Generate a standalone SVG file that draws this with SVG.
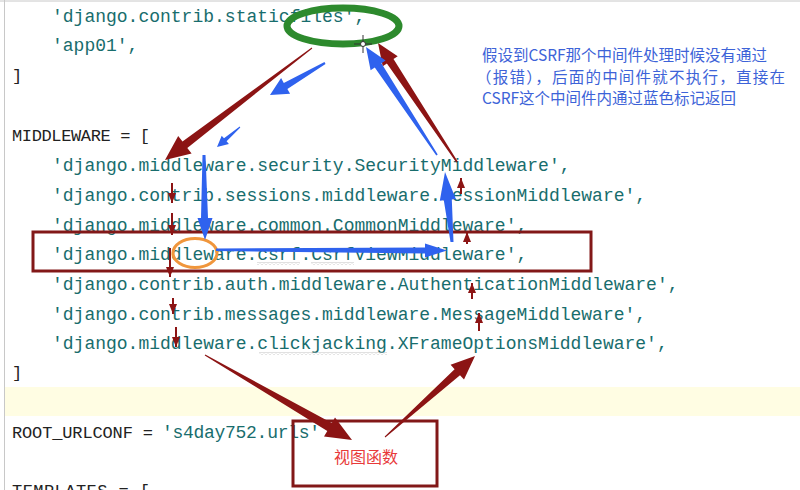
<svg xmlns="http://www.w3.org/2000/svg" width="800" height="490" viewBox="0 0 800 490">
  <defs>
    <style>
      .code { font-family: "Liberation Mono", "DejaVu Sans Mono", monospace; font-size: 18px; fill: #186d6d; }
      .kw { font-family: "Liberation Mono", "DejaVu Sans Mono", monospace; font-size: 17px; fill: #222222; }
      .note { font-family: "Noto Sans CJK SC", "Noto Sans", sans-serif; font-size: 15.5px; fill: #3d63d8; }
      .label { font-family: "Noto Sans CJK SC", sans-serif; font-size: 16px; fill: #e83a3a; }
      .box { fill: none; stroke: #821818; stroke-width: 3; }
      .red { fill: #8c1414; }
      .blue { fill: #2f62ee; }
      .small { stroke: #8c1414; stroke-width: 2; fill: none; marker-end: url(#rh); }
    </style>
    <marker id="rh" viewBox="0 0 10 8" refX="10" refY="4" markerWidth="10" markerHeight="8" markerUnits="userSpaceOnUse" orient="auto">
      <path d="M0,0 L10,4 L0,8 z" fill="#8c1414"/>
    </marker>
    <pattern id="squig" width="4" height="3" patternUnits="userSpaceOnUse">
      <path d="M0,2.5 L2,0.5 L4,2.5" fill="none" stroke="#b4b4b4" stroke-width="0.8"/>
    </pattern>
  </defs>

  <rect x="0" y="0" width="800" height="490" fill="#ffffff"/>
  <rect x="5" y="387" width="795" height="29" fill="#fffde3"/>
  <line x1="0" y1="1" x2="800" y2="1" stroke="#c8c8c8" stroke-width="1"/>
  <line x1="4.5" y1="0" x2="4.5" y2="490" stroke="#c8c8c8" stroke-width="1"/>

  <g id="code">
    <text class="code" x="52" y="22">'django.contrib.staticfiles',</text>
    <text class="code" x="52" y="51">'app01',</text>
    <text class="kw" x="12" y="81">]</text>
    <text class="kw" x="12" y="141" textLength="138" lengthAdjust="spacing">MIDDLEWARE = [</text>
    <text class="code" x="52" y="171">'django.middleware.security.SecurityMiddleware',</text>
    <text class="code" x="52" y="201">'django.contrib.sessions.middleware.SessionMiddleware',</text>
    <text class="code" x="52" y="231">'django.middleware.common.CommonMiddleware',</text>
    <text class="code" x="52" y="260">'django.middleware.csrf.CsrfViewMiddleware',</text>
    <text class="code" x="52" y="290">'django.contrib.auth.middleware.AuthenticationMiddleware',</text>
    <text class="code" x="52" y="320">'django.contrib.messages.middleware.MessageMiddleware',</text>
    <text class="code" x="52" y="349">'django.middleware.clickjacking.XFrameOptionsMiddleware',</text>
    <text class="kw" x="12" y="378">]</text>
    <text class="kw" x="12" y="438" textLength="141" lengthAdjust="spacing">ROOT_URLCONF =</text>
    <text class="code" x="162" y="438" textLength="158" lengthAdjust="spacing">'s4day752.urls'</text>
    <text class="kw" x="12" y="496" textLength="138" lengthAdjust="spacing">TEMPLATES = [</text>
    <rect x="257" y="262" width="43" height="3" fill="url(#squig)"/>
    <rect x="311" y="262" width="43" height="3" fill="url(#squig)"/>
    <rect x="259" y="352" width="128" height="3" fill="url(#squig)"/>
  </g>

  <g id="csrf-box">
    <rect class="box" x="33" y="232" width="558" height="39"/>
  </g>

  <g id="view-function">
    <rect class="box" x="293" y="421" width="144" height="65"/>
    <text class="label" x="334" y="463">视图函数</text>
  </g>

  <g id="note">
    <text class="note" x="482" y="61">假设到CSRF那个中间件处理时候没有通过</text>
    <text class="note" x="476" y="83" textLength="309" lengthAdjust="spacing">（报错），后面的中间件就不执行，直接在</text>
    <text class="note" x="482" y="104">CSRF这个中间件内通过蓝色标记返回</text>
  </g>

  <g id="csrf-mark">
    <ellipse cx="195" cy="253" rx="22" ry="14.5" fill="none" stroke="#f0963c" stroke-width="3"/>
  </g>

  <g id="connectors">
    <polygon class="red" points="312.3,48.4 187.3,148 191.6,153.5 165,160 178.2,136.1 182.5,141.6 311.7,47.6"/>
    <line class="small" x1="172" y1="183" x2="172" y2="203"/>
    <line class="small" x1="172" y1="213" x2="172" y2="235"/>
    <line class="small" x1="170" y1="248" x2="170" y2="277"/>
    <line class="small" x1="173" y1="298" x2="173" y2="314"/>
    <line class="small" x1="176" y1="327" x2="176" y2="347"/>
    <polygon class="red" points="204.75,355.4 327.3,430.9 324,436.5 352,440 335,417.5 331.8,423.1 205.25,354.6"/>
    <polygon class="red" points="385.3,437.4 460,375.2 464,379.6 475,356 450.6,364.8 454.6,369.2 384.7,436.6"/>
    <line class="small" x1="479" y1="331" x2="479" y2="313"/>
    <line class="small" x1="472" y1="299" x2="472" y2="283"/>
    <line class="small" x1="467" y1="244" x2="467" y2="232"/>
    <line class="small" x1="461" y1="194" x2="461" y2="178"/>
    <polygon class="red" points="457.7,161.6 393.5,59.1 397.7,56.3 378,43 382.7,66.3 386.9,63.5 456.3,162.4"/>

    <polygon class="blue" points="325.5,63.9 287.4,88.9 290.1,93.7 270,95 281.1,78.1 283.8,82.9 324.5,62.1"/>
    <polygon class="blue" points="240.3,127.4 226.6,141.3 228.9,143.9 217,147 221.7,135.7 224,138.3 239.7,126.6"/>
    <polygon class="blue" points="202.5,155 205.5,155 208,218 212.5,218 205,240 197.5,218 201,218"/>
    <polygon class="blue" points="216,248.5 216,251 425,253.5 425,257.5 447,250.5 425,243.5 425,247.5"/>
    <polygon class="blue" points="453.5,241.9 451.8,199.5 455.8,199.1 445,172 439.8,200.7 443.8,200.3 450.5,242.1"/>
    <polygon class="blue" points="437.7,154.6 381.4,63.2 385.6,60.5 366,47 370.6,70.3 374.8,67.6 436.3,155.4"/>
  </g>

  <g id="start-mark">
    <ellipse cx="343" cy="26" rx="56" ry="18" fill="none" stroke="#2d8a2d" stroke-width="7"/>
    <g stroke="#333333" stroke-width="1">
      <line x1="354" y1="44" x2="372" y2="44"/>
      <line x1="363" y1="35" x2="363" y2="53"/>
    </g>
    <circle cx="363" cy="44" r="2.5" fill="#ffffff" stroke="#333333" stroke-width="1"/>
  </g>
</svg>
